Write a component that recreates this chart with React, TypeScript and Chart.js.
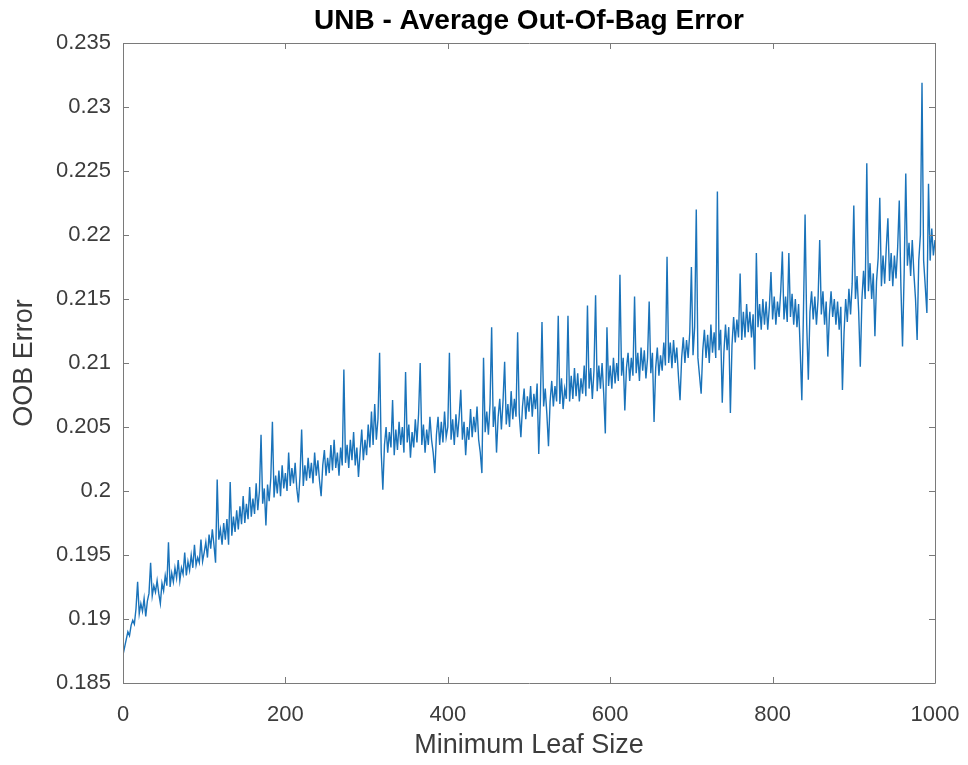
import React, { useEffect, useRef } from "react";
import { Chart, registerables } from "chart.js";

Chart.register(...registerables);

// Minimum leaf size runs from 0 to 1000 in steps of 2
const LEAF_STEP = 2;

// Average out-of-bag error, one block per 100 leaf sizes
const oob000 = [
  0.1872, 0.1878, 0.1884, 0.1890, 0.1887, 0.1895, 0.1899, 0.1896, 0.1908, 0.1929,
  0.1904, 0.1912, 0.1906, 0.1916, 0.1902, 0.1914, 0.1920, 0.1944, 0.1918, 0.1926,
  0.1921, 0.1930, 0.1920, 0.1912, 0.1928, 0.1922, 0.1934, 0.1926, 0.1960, 0.1925,
  0.1936, 0.1929, 0.1940, 0.1932, 0.1946, 0.1930, 0.1940, 0.1935, 0.1952, 0.1934,
  0.1945, 0.1938, 0.1950, 0.1940, 0.1958, 0.1942, 0.1948, 0.1944, 0.1962, 0.1945,
];
const oob100 = [
  0.1952, 0.1960, 0.1948, 0.1966, 0.1955, 0.1970, 0.1958, 0.1944, 0.2009, 0.1962,
  0.1970, 0.1958, 0.1975, 0.1962, 0.1978, 0.1958, 0.2007, 0.1965, 0.1980, 0.1968,
  0.1985, 0.1970, 0.1988, 0.1974, 0.1996, 0.1975, 0.1990, 0.1978, 0.2003, 0.1980,
  0.1994, 0.1982, 0.2006, 0.1985, 0.2000, 0.2044, 0.1990, 0.2002, 0.1973, 0.2005,
  0.1992, 0.2010, 0.2054, 0.1995, 0.2012, 0.1998, 0.2016, 0.1996, 0.2020, 0.2002,
];
const oob200 = [
  0.2014, 0.2000, 0.2030, 0.2004, 0.2018, 0.2006, 0.2022, 0.2002, 0.1991, 0.2012,
  0.2048, 0.2004, 0.2020, 0.2008, 0.2026, 0.2010, 0.2022, 0.2006, 0.2030, 0.2012,
  0.2024, 0.2008, 0.1996, 0.2020, 0.2032, 0.2012, 0.2026, 0.2014, 0.2036, 0.2016,
  0.2040, 0.2018, 0.2030, 0.2012, 0.2034, 0.2020, 0.2095, 0.2022, 0.2036, 0.2018,
  0.2040, 0.2024, 0.2046, 0.2020, 0.2034, 0.2011, 0.2030, 0.2048, 0.2024, 0.2040,
];
const oob300 = [
  0.2028, 0.2052, 0.2034, 0.2062, 0.2036, 0.2068, 0.2040, 0.2056, 0.2108, 0.2030,
  0.2001, 0.2036, 0.2050, 0.2030, 0.2046, 0.2034, 0.2071, 0.2028, 0.2048, 0.2032,
  0.2054, 0.2036, 0.2050, 0.2030, 0.2093, 0.2038, 0.2052, 0.2026, 0.2046, 0.2034,
  0.2056, 0.2038, 0.2060, 0.2100, 0.2036, 0.2052, 0.2030, 0.2048, 0.2036, 0.2058,
  0.2040, 0.2030, 0.2014, 0.2044, 0.2058, 0.2036, 0.2054, 0.2038, 0.2062, 0.2042,
];
const oob400 = [
  0.2050, 0.2108, 0.2040, 0.2056, 0.2036, 0.2060, 0.2042, 0.2058, 0.2079, 0.2040,
  0.2054, 0.2028, 0.2050, 0.2040, 0.2064, 0.2042, 0.2058, 0.2046, 0.2066, 0.2040,
  0.2030, 0.2014, 0.2104, 0.2046, 0.2062, 0.2044, 0.2068, 0.2128, 0.2050, 0.2066,
  0.2030, 0.2058, 0.2072, 0.2048, 0.2070, 0.2101, 0.2052, 0.2068, 0.2050, 0.2078,
  0.2056, 0.2072, 0.2058, 0.2124, 0.2060, 0.2042, 0.2066, 0.2080, 0.2056, 0.2074,
];
const oob500 = [
  0.2062, 0.2082, 0.2058, 0.2076, 0.2064, 0.2084, 0.2029, 0.2070, 0.2132, 0.2066,
  0.2080, 0.2060, 0.2035, 0.2070, 0.2086, 0.2066, 0.2082, 0.2070, 0.2137, 0.2068,
  0.2088, 0.2064, 0.2080, 0.2072, 0.2137, 0.2070, 0.2090, 0.2072, 0.2096, 0.2074,
  0.2092, 0.2070, 0.2088, 0.2076, 0.2098, 0.2074, 0.2145, 0.2080, 0.2096, 0.2072,
  0.2094, 0.2153, 0.2078, 0.2098, 0.2080, 0.2100, 0.2076, 0.2045, 0.2128, 0.2082,
];
const oob600 = [
  0.2098, 0.2080, 0.2104, 0.2084, 0.2100, 0.2086, 0.2169, 0.2090, 0.2104, 0.2063,
  0.2096, 0.2108, 0.2086, 0.2104, 0.2090, 0.2152, 0.2092, 0.2108, 0.2086, 0.2112,
  0.2094, 0.2110, 0.2088, 0.2104, 0.2148, 0.2092, 0.2108, 0.2054, 0.2096, 0.2112,
  0.2090, 0.2106, 0.2094, 0.2116, 0.2098, 0.2183, 0.2100, 0.2116, 0.2096, 0.2118,
  0.2100, 0.2112, 0.2090, 0.2071, 0.2104, 0.2120, 0.2100, 0.2118, 0.2104, 0.2124,
];
const oob700 = [
  0.2175, 0.2106, 0.2128, 0.2220, 0.2104, 0.2090, 0.2076, 0.2110, 0.2126, 0.2104,
  0.2122, 0.2100, 0.2130, 0.2108, 0.2124, 0.2104, 0.2234, 0.2110, 0.2126, 0.2069,
  0.2108, 0.2130, 0.2110, 0.2128, 0.2061, 0.2114, 0.2136, 0.2116, 0.2134, 0.2120,
  0.2170, 0.2118, 0.2140, 0.2120, 0.2146, 0.2124, 0.2140, 0.2120, 0.2138, 0.2095,
  0.2186, 0.2128, 0.2146, 0.2126, 0.2150, 0.2130, 0.2148, 0.2126, 0.2144, 0.2171,
];
const oob800 = [
  0.2134, 0.2152, 0.2130, 0.2148, 0.2136, 0.2156, 0.2187, 0.2134, 0.2152, 0.2132,
  0.2186, 0.2136, 0.2154, 0.2130, 0.2150, 0.2128, 0.2146, 0.2110, 0.2071, 0.2140,
  0.2216, 0.2130, 0.2087, 0.2140, 0.2156, 0.2134, 0.2152, 0.2130, 0.2150, 0.2196,
  0.2138, 0.2156, 0.2130, 0.2148, 0.2105, 0.2138, 0.2156, 0.2136, 0.2150, 0.2130,
  0.2148, 0.2126, 0.2144, 0.2079, 0.2124, 0.2150, 0.2132, 0.2158, 0.2138, 0.2162,
];
const oob900 = [
  0.2223, 0.2150, 0.2168, 0.2140, 0.2097, 0.2150, 0.2172, 0.2150, 0.2256, 0.2156,
  0.2178, 0.2150, 0.2170, 0.2121, 0.2164, 0.2182, 0.2229, 0.2160, 0.2184, 0.2162,
  0.2190, 0.2213, 0.2164, 0.2186, 0.2160, 0.2184, 0.2166, 0.2190, 0.2227, 0.2160,
  0.2113, 0.2170, 0.2248, 0.2176, 0.2194, 0.2168, 0.2196, 0.2170, 0.2150, 0.2118,
  0.2180, 0.2200, 0.2319, 0.2180, 0.2160, 0.2139, 0.2240, 0.2180, 0.2205, 0.2184,
  0.2196,
];

const xTickValues = [0, 200, 400, 600, 800, 1000];
const yTickValues = [0.185, 0.19, 0.195, 0.2, 0.205, 0.21, 0.215, 0.22, 0.225, 0.23, 0.235];

const TITLE = "UNB - Average Out-Of-Bag Error";
const X_LABEL = "Minimum Leaf Size";
const Y_LABEL = "OOB Error";

const FONT = "'Liberation Sans', Arial, Helvetica, sans-serif";
const TEXT = "#3c3c3c";
const AXIS = "#7a7a7a";

const boxPlugin = {
  id: "matlabBox",
  afterDatasetsDraw(chart: any) {
    const { ctx, chartArea: a, scales } = chart;
    const len = 6;
    ctx.save();
    ctx.strokeStyle = AXIS;
    ctx.lineWidth = 1;
    ctx.beginPath();
    ctx.rect(Math.round(a.left) + 0.5, Math.round(a.top) + 0.5, Math.round(a.right - a.left), Math.round(a.bottom - a.top));
    ctx.stroke();
    ctx.beginPath();
    for (const v of xTickValues) {
      const px = Math.round(scales.x.getPixelForValue(v)) + 0.5;
      ctx.moveTo(px, a.bottom);
      ctx.lineTo(px, a.bottom - len);
      ctx.moveTo(px, a.top);
      ctx.lineTo(px, a.top + len);
    }
    for (const v of yTickValues) {
      const py = Math.round(scales.y.getPixelForValue(v)) + 0.5;
      ctx.moveTo(a.left, py);
      ctx.lineTo(a.left + len, py);
      ctx.moveTo(a.right, py);
      ctx.lineTo(a.right - len, py);
    }
    ctx.stroke();
    // title centred over the axes box, as MATLAB does
    ctx.fillStyle = "#000";
    ctx.font = `bold 28px ${FONT}`;
    ctx.textAlign = "center";
    ctx.textBaseline = "middle";
    ctx.fillText(TITLE, (a.left + a.right) / 2, 21);
    ctx.restore();
  },
};

export default function App() {
  const ref = useRef<HTMLCanvasElement | null>(null);

  useEffect(() => {
    if (!ref.current) return;
    const values = [
      ...oob000, ...oob100, ...oob200, ...oob300, ...oob400,
      ...oob500, ...oob600, ...oob700, ...oob800, ...oob900,
    ];
    const points = values.map((v, i) => ({ x: i * LEAF_STEP, y: v }));

    const chart = new Chart(ref.current, {
      type: "line",
      data: {
        datasets: [
          {
            data: points,
            borderColor: "#1a73ba",
            borderWidth: 1.4,
            pointRadius: 0,
            tension: 0,
            fill: false,
          },
        ],
      },
      plugins: [boxPlugin],
      options: {
        responsive: false,
        animation: false,
        layout: { padding: { left: 0, right: 33, top: 43, bottom: 0 } },
        plugins: {
          legend: { display: false },
          tooltip: { enabled: false },
          title: { display: false },
        },
        scales: {
          x: {
            type: "linear",
            min: 0,
            max: 1000,
            afterBuildTicks: (s: any) => {
              s.ticks = xTickValues.map((v) => ({ value: v }));
            },
            afterFit: (s: any) => {
              s.height = 82;
              s.paddingLeft = 0;
              s.paddingRight = 0;
            },
            grid: { display: false, drawTicks: false },
            border: { display: false },
            ticks: {
              color: TEXT,
              padding: 19,
              maxRotation: 0,
              autoSkip: false,
              font: { family: FONT, size: 22 },
              callback: (v: any) => String(v),
            },
            title: {
              display: true,
              text: X_LABEL,
              color: TEXT,
              font: { family: FONT, size: 27, lineHeight: 1.2 },
              padding: { top: 0, bottom: 3 },
            },
          },
          y: {
            type: "linear",
            min: 0.185,
            max: 0.235,
            afterBuildTicks: (s: any) => {
              s.ticks = yTickValues.map((v) => ({ value: v }));
            },
            afterFit: (s: any) => {
              s.width = 123;
              s.paddingTop = 0;
              s.paddingBottom = 0;
            },
            grid: { display: false, drawTicks: false },
            border: { display: false },
            ticks: {
              color: TEXT,
              padding: 12,
              autoSkip: false,
              font: { family: FONT, size: 22 },
              callback: (v: any) => String(Number(Number(v).toFixed(3))),
            },
            title: {
              display: true,
              text: Y_LABEL,
              color: TEXT,
              font: { family: FONT, size: 27, lineHeight: 1.2 },
              padding: { top: 8, bottom: 0 },
            },
          },
        },
      },
    } as any);

    return () => chart.destroy();
  }, []);

  return (
    <div style={{ position: "fixed", left: 0, top: 0, width: 968, height: 765, background: "#fff" }}>
      <canvas ref={ref} width={968} height={765} style={{ display: "block" }} />
    </div>
  );
}
